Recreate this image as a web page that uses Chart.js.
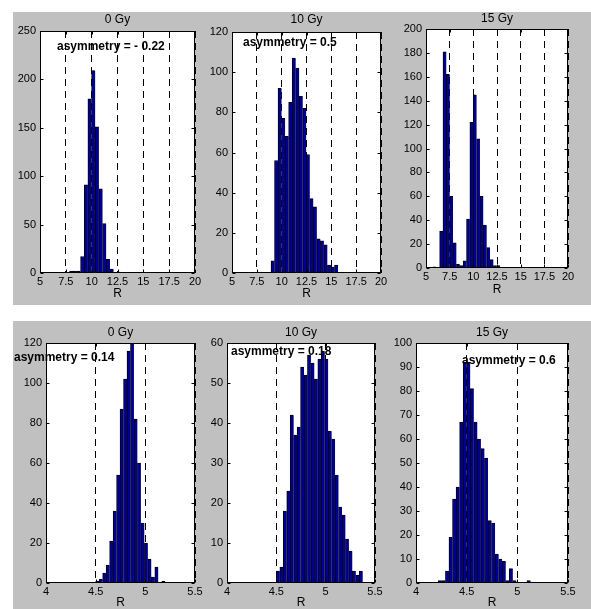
<!DOCTYPE html>
<html>
<head>
<meta charset="utf-8">
<script src="https://cdn.jsdelivr.net/npm/chart.js@4.4.1/dist/chart.umd.min.js"></script>
<style>
  body { margin: 0; background: #fff; }
  .box { position: absolute; left: 13px; width: 578px; background: #c0c0c0; }
  canvas { position: absolute; left: 13px; }
</style>
</head>
<body>
<div class="box" style="top:12px;height:293px"></div>
<div class="box" style="top:321px;height:288px"></div>
<canvas id="c1" width="578" height="293" style="top:12px"></canvas>
<canvas id="c2" width="578" height="293" style="top:12px"></canvas>
<canvas id="c3" width="578" height="293" style="top:12px"></canvas>
<canvas id="c4" width="578" height="288" style="top:321px"></canvas>
<canvas id="c5" width="578" height="288" style="top:321px"></canvas>
<canvas id="c6" width="578" height="288" style="top:321px"></canvas>
<script>
Chart.defaults.font.family = 'Arial, "Liberation Sans", Helvetica, sans-serif';
Chart.defaults.color = '#000';

// bin centres (R)
const topBins = [5.908, 6.263, 6.618, 6.973, 7.328, 7.683, 8.038, 8.393, 8.748, 9.103,
  9.458, 9.813, 10.168, 10.523, 10.878, 11.233, 11.588, 11.943, 12.298, 12.653,
  13.008, 13.363, 13.718, 14.073, 14.428, 14.783, 15.138, 15.493];
const botBins = [4.238, 4.273, 4.308, 4.343, 4.378, 4.413, 4.448, 4.483, 4.518, 4.553,
  4.588, 4.623, 4.658, 4.693, 4.728, 4.763, 4.798, 4.833, 4.868, 4.903, 4.938, 4.973,
  5.008, 5.043, 5.078, 5.113, 5.148, 5.183, 5.218, 5.253, 5.288, 5.323, 5.358];

// counts, top row
const top0Gy  = [0, 0, 0, 0, 0, 0, 2, 2, 2, 17, 91, 180, 209, 151, 87, 51, 14, 4, 0, 1, 0, 0, 0, 0, 0, 0, 0, 0];
const top10Gy = [0, 0, 0, 0, 0, 0, 0, 0, 0, 6, 56, 92, 77, 68, 85, 107, 102, 88, 82, 59, 37, 33, 17, 16, 14, 4, 3, 4];
const top15Gy = [1, 0, 31, 181, 162, 60, 21, 3, 2, 6, 41, 122, 145, 108, 60, 36, 17, 7, 2, 2, 0, 0, 0, 0, 0, 0, 0, 0];
// counts, bottom row
const bot0Gy  = [0, 0, 0, 0, 0, 0, 0, 0, 1, 2, 5, 9, 21, 36, 54, 87, 102, 116, 122, 82, 60, 30, 20, 12, 3, 8, 0, 1, 0, 0, 0, 0, 0];
const bot10Gy = [0, 0, 0, 0, 0, 0, 0, 0, 3, 4, 18, 23, 42, 37, 39, 54, 52, 57, 55, 51, 56, 58, 56, 38, 36, 27, 19, 17, 11, 8, 3, 2, 3];
const bot15Gy = [1, 1, 5, 19, 35, 40, 67, 92, 92, 81, 67, 60, 56, 52, 26, 25, 12, 10, 9, 1, 6, 1, 0, 0, 0, 1, 0, 0, 0, 0, 0, 0, 0];

// ticks
const topXTicks = [5, 7.5, 10, 12.5, 15, 17.5, 20];
const botXTicks = [4, 4.5, 5, 5.5];
const yTicksTop0 = [0, 50, 100, 150, 200, 250];
const yTicksTop10 = [0, 20, 40, 60, 80, 100, 120];
const yTicksTop15 = [0, 20, 40, 60, 80, 100, 120, 140, 160, 180, 200];
const yTicksBot0 = [0, 20, 40, 60, 80, 100, 120];
const yTicksBot10 = [0, 10, 20, 30, 40, 50, 60];
const yTicksBot15 = [0, 10, 20, 30, 40, 50, 60, 70, 80, 90, 100];

const titles = ['0 Gy', '10 Gy', '15 Gy'];
const notes = ['asymmetry = - 0.22', 'asymmetry = 0.5', '', 'asymmetry = 0.14', 'asymmetry = 0.18', 'asymmetry = 0.6'];

// layout in canvas pixels: plot [left, top, right, bottom], title centre y, "R" centre y, note pos
const panels = [
  {id: 'c1', h: 293, bins: topBins, counts: top0Gy,  xt: topXTicks, yt: yTicksTop0,  title: titles[0], note: notes[0], area: [27, 19, 182, 261], titleY: 8,  rY: 282, noteAt: [44, 35]},
  {id: 'c2', h: 293, bins: topBins, counts: top10Gy, xt: topXTicks, yt: yTicksTop10, title: titles[1], note: notes[1], area: [219, 20, 368, 261], titleY: 8, rY: 282, noteAt: [230, 31]},
  {id: 'c3', h: 293, bins: topBins, counts: top15Gy, xt: topXTicks, yt: yTicksTop15, title: titles[2], note: notes[2], area: [413, 17, 555, 256], titleY: 7, rY: 278, noteAt: [0, 0]},
  {id: 'c4', h: 288, bins: botBins, counts: bot0Gy,  xt: botXTicks, yt: yTicksBot0,  title: titles[0], note: notes[3], area: [33, 22, 182, 262], titleY: 12, rY: 282, noteAt: [1, 37]},
  {id: 'c5', h: 288, bins: botBins, counts: bot10Gy, xt: botXTicks, yt: yTicksBot10, title: titles[1], note: notes[4], area: [214, 22, 362, 262], titleY: 12, rY: 282, noteAt: [218, 31]},
  {id: 'c6', h: 288, bins: botBins, counts: bot15Gy, xt: botXTicks, yt: yTicksBot15, title: titles[2], note: notes[5], area: [403, 22, 555, 262], titleY: 12, rY: 282, noteAt: [449, 40]}
];

// white plot area, box, inward ticks, title and the text note, like a matlab axes
const matlabAxes = {
  id: 'matlabAxes',
  beforeDraw(chart) {
    const {ctx, chartArea: a} = chart;
    ctx.save();
    ctx.fillStyle = '#fff';
    ctx.fillRect(a.left, a.top, a.right - a.left, a.bottom - a.top);
    ctx.restore();
  },
  afterDraw(chart, args, opts) {
    const {ctx, chartArea: a, scales: {x, y}} = chart;
    const L = Math.round(a.left) + 0.5, R = Math.round(a.right) - 0.5;
    const T = Math.round(a.top) + 0.5, B = Math.round(a.bottom) - 0.5;
    ctx.save();
    ctx.strokeStyle = '#000';
    ctx.lineWidth = 1;
    ctx.beginPath();
    x.ticks.forEach(t => {
      const px = Math.round(x.getPixelForValue(t.value)) + 0.5;
      ctx.moveTo(px, B); ctx.lineTo(px, B - 3);
      ctx.moveTo(px, T); ctx.lineTo(px, T + 3);
    });
    y.ticks.forEach(t => {
      const py = Math.round(y.getPixelForValue(t.value)) + 0.5;
      ctx.moveTo(L, py); ctx.lineTo(L + 3, py);
      ctx.moveTo(R, py); ctx.lineTo(R - 3, py);
    });
    ctx.stroke();
    ctx.strokeRect(L, T, R - L, B - T);
    ctx.fillStyle = '#000';
    ctx.textBaseline = 'middle';
    ctx.textAlign = 'center';
    ctx.font = '12px Arial, "Liberation Sans", sans-serif';
    ctx.fillText(opts.title, (a.left + a.right) / 2, opts.titleY);
    if (opts.text) {
      ctx.font = 'bold 12px Arial, "Liberation Sans", sans-serif';
      ctx.textAlign = 'left';
      ctx.fillText(opts.text, opts.x, opts.y);
    }
    ctx.restore();
  }
};

panels.forEach(p => {
  const [l, t, r, b] = p.area;
  const xH = p.rY + 6 - b;
  new Chart(document.getElementById(p.id), {
    type: 'bar',
    data: {
      datasets: [{
        data: p.bins.map((v, i) => ({x: v, y: p.counts[i]})),
        backgroundColor: '#00008f',
        borderColor: '#000',
        borderWidth: {left: 1, top: 1, right: 0, bottom: 0},
        borderSkipped: false,
        barPercentage: 1,
        categoryPercentage: 1,
        clip: 0
      }]
    },
    options: {
      responsive: false,
      animation: false,
      events: [],
      layout: {padding: {left: 0, right: 578 - r, top: t, bottom: p.h - b - xH}},
      plugins: {
        legend: {display: false},
        tooltip: {enabled: false},
        matlabAxes: {title: p.title, titleY: p.titleY, text: p.note, x: p.noteAt[0], y: p.noteAt[1]}
      },
      scales: {
        x: {
          type: 'linear',
          offset: false,
          min: p.xt[0], max: p.xt[p.xt.length - 1],
          afterBuildTicks: s => { s.ticks = p.xt.map(v => ({value: v})); },
          afterFit: s => { s.height = xH; },
          grid: {color: '#000', lineWidth: 1, drawTicks: false, offset: false},
          border: {display: false, dash: [7, 5]},
          ticks: {padding: 2.5, font: {size: 11}, maxRotation: 0, autoSkip: false, callback: v => String(v)},
          title: {display: true, text: 'R', font: {size: 12, lineHeight: 1}, padding: 0}
        },
        y: {
          min: p.yt[0], max: p.yt[p.yt.length - 1],
          afterBuildTicks: s => { s.ticks = p.yt.map(v => ({value: v})); },
          afterFit: s => { s.width = l; },
          grid: {display: false, drawTicks: false},
          border: {display: false},
          ticks: {padding: 4, font: {size: 11}, callback: v => String(v)}
        }
      }
    },
    plugins: [matlabAxes]
  });
});
</script>
</body>
</html>
